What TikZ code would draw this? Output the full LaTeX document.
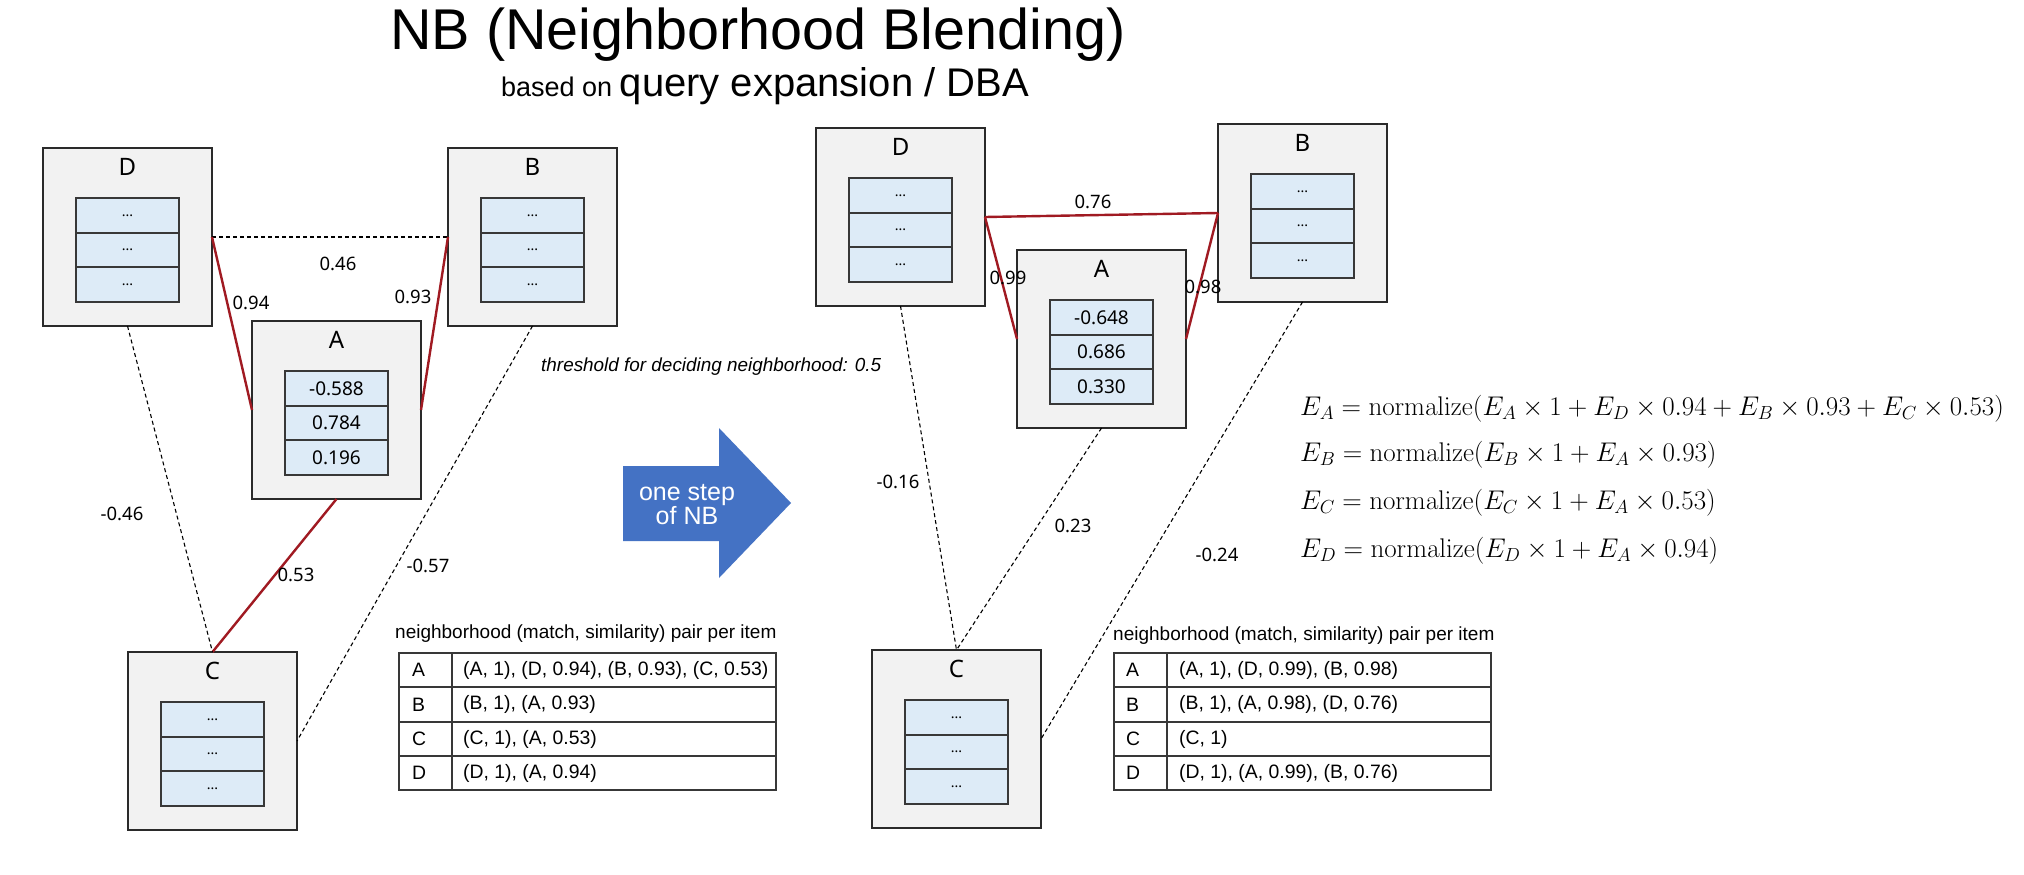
\RequirePackage{fix-cm}
\documentclass[tikz,border=0pt]{standalone}
\usepackage[no-math]{fontspec}
\setmainfont{Liberation Sans}
\newfontfamily\segoe{Noto Sans}
\definecolor{boxgray}{HTML}{F2F2F2}
\definecolor{boxline}{HTML}{2A2A2A}
\definecolor{cellblue}{HTML}{DDEBF7}
\definecolor{cellline}{HTML}{383838}
\definecolor{redline}{HTML}{A01A22}
\definecolor{arrowblue}{HTML}{4472C4}
\newcommand{\fsz}[1]{\fontsize{#1}{#1}\selectfont}
\newcommand{\valbox}[7]{%
  \node[outerbox] (#1) at (#2,#3) {};
  \node[boxlabel] (#1-lab) at ([yshift=-19pt]#1.north) {#4};
  \node[cellbox,font=\segoe\fsz{19}] (#1-c1) at ([yshift=-67.35pt]#1.north) {#5};
  \node[cellbox,font=\segoe\fsz{19}] (#1-c2) at ([yshift=-102.05pt]#1.north) {#6};
  \node[cellbox,font=\segoe\fsz{19}] (#1-c3) at ([yshift=-136.75pt]#1.north) {#7};
}
\newcommand{\dotbox}[4]{%
  \node[outerbox] (#1) at (#2,#3) {};
  \node[boxlabel] (#1-lab) at ([yshift=-19pt]#1.north) {#4};
  \node[cellbox] (#1-c1) at ([yshift=-67.35pt]#1.north) {...};
  \node[cellbox] (#1-c2) at ([yshift=-102.05pt]#1.north) {...};
  \node[cellbox] (#1-c3) at ([yshift=-136.75pt]#1.north) {...};
}
\begin{document}
\begin{tikzpicture}[x=1pt,y=-1pt,
  outerbox/.style={draw=boxline,fill=boxgray,line width=1.6pt,minimum width=169pt,minimum height=178pt,inner sep=0pt,outer sep=0pt},
  boxlabel/.style={font=\segoe\fsz{24},inner sep=0pt},
  cellbox/.style={draw=cellline,fill=cellblue,line width=2pt,minimum width=103pt,minimum height=34.7pt,inner sep=0pt,font=\segoe\fsz{14}},
  redge/.style={draw=redline,line width=2.4pt},
  dedge/.style={draw=black,line width=1.1pt,dash pattern=on 4pt off 3pt},
  elabel/.style={font=\segoe\fsz{18.5},inner sep=0pt},
  ttext/.style={font=\fsz{19.4},inner sep=0pt,anchor=west},
  tline/.style={draw=cellline,line width=1.8pt},
  eqn/.style={font=\fsz{27},inner sep=0pt,anchor=west}
]
\useasboundingbox (0,0) rectangle (2024,875);
\fill[white] (0,0) rectangle (2024,875);

% titles
\node[font=\fsz{57.5},inner sep=0pt,anchor=base] (title) at (758,50) {NB (Neighborhood Blending)};
\node[inner sep=0pt,anchor=base west] (subtitle) at (501,96) {{\fsz{27}based on }{\fsz{40}query expansion / DBA}};

% ---------- left graph ----------
\dotbox{lD}{127.5}{237}{D}
\dotbox{lB}{532.5}{237}{B}
\valbox{lA}{336.5}{410}{A}{-0.588}{0.784}{0.196}
\dotbox{lC}{212.5}{741}{C}

\draw[dedge] (lD.east) -- (lB.west);
\draw[redge] (lD.east) -- (lA.west);
\draw[redge] (lB.west) -- (lA.east);
\draw[redge] (lA.south) -- (lC.north);
\draw[dedge] (lD.south) -- (lC.north);
\draw[dedge] (lB.south) -- (lC.east);

\node[elabel] (l046) at (338,264) {0.46};
\node[elabel] (l094) at (251,303) {0.94};
\node[elabel] (l093) at (413,297) {0.93};
\node[elabel] (lm046) at (122,514) {-0.46};
\node[elabel] (l053) at (296,575) {0.53};
\node[elabel] (lm057) at (428,566) {-0.57};

\node[font=\itshape\fsz{18.9},inner sep=0pt,anchor=west] (thr) at (541,367) {threshold for deciding neighborhood: 0.5};

% arrow
\fill[arrowblue] (623,466) -- (719,466) -- (719,428) -- (791,503) -- (719,578) -- (719,541) -- (623,541) -- cycle;
\node[font=\fsz{25},text=white,align=center,inner sep=0pt] (step) at (687,505) {one step\\[-1pt]of NB};

% left table
\node[ttext,font=\fsz{19}] (ltitle) at (395,634) {neighborhood (match, similarity) pair per item};
\draw[tline] (399,653) rectangle (776,790);
\draw[tline] (399,687) -- (776,687) (399,722) -- (776,722) (399,756) -- (776,756) (452,653) -- (452,790);
\node[ttext] (lkA) at (412,670) {A};
\node[ttext] (lkB) at (412,704.5) {B};
\node[ttext] (lkC) at (412,739) {C};
\node[ttext] (lkD) at (412,773) {D};
\node[ttext] (lvA) at (463,670) {(A, 1), (D, 0.94), (B, 0.93), (C, 0.53)};
\node[ttext] (lvB) at (463,704.5) {(B, 1), (A, 0.93)};
\node[ttext] (lvC) at (463,739) {(C, 1), (A, 0.53)};
\node[ttext] (lvD) at (463,773) {(D, 1), (A, 0.94)};

% ---------- right graph ----------
\dotbox{rD}{900.5}{217}{D}
\valbox{rA}{1101.5}{339}{A}{-0.648}{0.686}{0.330}
\dotbox{rB}{1302.5}{213}{B}
\dotbox{rC}{956.5}{739}{C}

\draw[redge] (rD.east) -- (rB.west);
\draw[redge] (rD.east) -- (rA.west);
\draw[redge] (rB.west) -- (rA.east);
\draw[dedge] (rD.south) -- (rC.north);
\draw[dedge] (rA.south) -- (rC.north);
\draw[dedge] (rB.south) -- (rC.east);

\node[elabel] (r076) at (1093,202) {0.76};
\node[elabel] (r099) at (1008,278) {0.99};
\node[elabel] (r098) at (1203,287) {0.98};
\node[elabel] (rm016) at (898,482) {-0.16};
\node[elabel] (r023) at (1073,526) {0.23};
\node[elabel] (rm024) at (1217,555) {-0.24};

% right table
\node[ttext,font=\fsz{19}] (rtitle) at (1113,636) {neighborhood (match, similarity) pair per item};
\draw[tline] (1114,653) rectangle (1491,790);
\draw[tline] (1114,687) -- (1491,687) (1114,722) -- (1491,722) (1114,756) -- (1491,756) (1167,653) -- (1167,790);
\node[ttext] (rkA) at (1126,670) {A};
\node[ttext] (rkB) at (1126,704.5) {B};
\node[ttext] (rkC) at (1126,739) {C};
\node[ttext] (rkD) at (1126,773) {D};
\node[ttext] (rvA) at (1179,670) {(A, 1), (D, 0.99), (B, 0.98)};
\node[ttext] (rvB) at (1179,704.5) {(B, 1), (A, 0.98), (D, 0.76)};
\node[ttext] (rvC) at (1179,739) {(C, 1)};
\node[ttext] (rvD) at (1179,773) {(D, 1), (A, 0.99), (B, 0.76)};

% equations
\node[eqn] (eqA) at (1300,409) {$E_A = \mathrm{normalize}(E_A \times 1 + E_D \times 0.94 + E_B \times 0.93 + E_C \times 0.53)$};
\node[eqn] (eqB) at (1300,455) {$E_B = \mathrm{normalize}(E_B \times 1 + E_A \times 0.93)$};
\node[eqn] (eqC) at (1300,503) {$E_C = \mathrm{normalize}(E_C \times 1 + E_A \times 0.53)$};
\node[eqn] (eqD) at (1300,551) {$E_D = \mathrm{normalize}(E_D \times 1 + E_A \times 0.94)$};
\end{tikzpicture}
\end{document}
